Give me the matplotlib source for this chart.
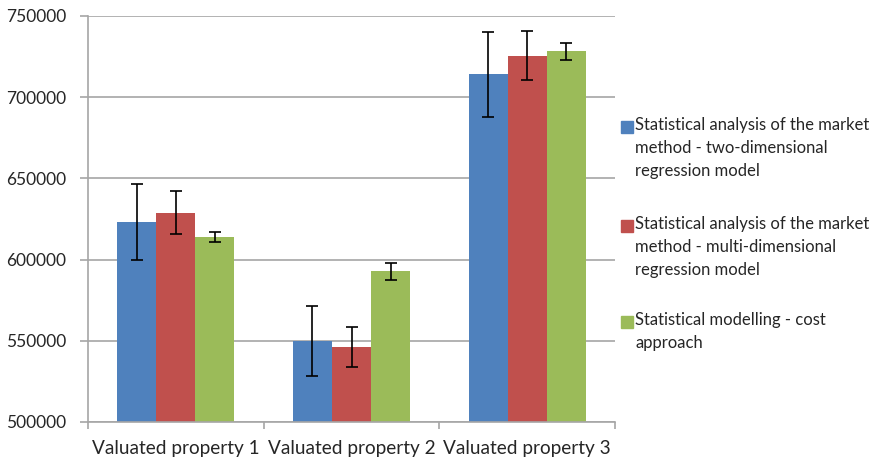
import numpy as np
import matplotlib
matplotlib.use("Agg")
import matplotlib.pyplot as plt
from matplotlib.patches import Rectangle

# === DATA ===
CATEGORIES = ["Valuated property 1", "Valuated property 2", "Valuated property 3"]
SERIES = [
    "Statistical analysis of the market\nmethod - two-dimensional\nregression model",
    "Statistical analysis of the market\nmethod - multi-dimensional\nregression model",
    "Statistical modelling - cost\napproach",
]
TWO_DIM = [623000, 550000, 714000]
MULTI_DIM = [629000, 546000, 725500]
COST = [614000, 592800, 728200]
TWO_DIM_ERR = [23400, 21600, 26400]
MULTI_DIM_ERR = [13300, 12300, 15000]
COST_ERR = [2900, 5300, 5400]

COLORS = ["#4F81BD", "#C0504D", "#9BBB59"]
GRID = "#A6A6A6"
TEXT = "#262626"

plt.rcParams['font.family'] = ['Lato', 'DejaVu Sans']

fig = plt.figure(figsize=(8.77, 4.61), dpi=100)
ax = fig.add_axes([0.1003, 0.0846, 0.601, 0.8807])

x = np.arange(len(CATEGORIES))
width = 0.667 / 3
values = [TWO_DIM, MULTI_DIM, COST]
errors = [TWO_DIM_ERR, MULTI_DIM_ERR, COST_ERR]
for i, (vals, errs) in enumerate(zip(values, errors)):
    ax.bar(x + (i - 1) * width, vals, width, color=COLORS[i], zorder=2,
           yerr=errs, error_kw=dict(ecolor='black', elinewidth=1.2, capsize=4.5, capthick=1.2, zorder=3))

ax.set_ylim(500000, 750000)
ax.set_xlim(-0.5, 2.5)
ax.set_yticks(np.arange(500000, 750001, 50000))
ax.set_yticklabels([str(v) for v in range(500000, 750001, 50000)], fontsize=12.5, color=TEXT)
ax.yaxis.grid(True, color=GRID, linewidth=1.2, zorder=0)
ax.set_axisbelow(True)

ax.set_xticks(x)
ax.set_xticklabels(CATEGORIES, fontsize=13.7, color=TEXT)
ax.tick_params(axis='x', which='major', length=0, pad=13)
ax.set_xticks(np.arange(-0.5, 3.0, 1.0), minor=True)
ax.tick_params(axis='x', which='minor', length=5, color=GRID, width=1.2)
ax.tick_params(axis='y', length=6, color=GRID, width=1.2, pad=9.5)

for s in ['top', 'right']:
    ax.spines[s].set_visible(False)
for s in ['left', 'bottom']:
    ax.spines[s].set_color(GRID)
    ax.spines[s].set_linewidth(1.2)

# legend drawn by hand so the swatch sits on the first line
W, H = 877, 461
legend_y = [127, 226, 322]
for i, label in enumerate(SERIES):
    yc = legend_y[i]
    fig.patches.append(Rectangle((621 / W, (H - yc - 6) / H), 12 / W, 12 / H,
                                 transform=fig.transFigure, color=COLORS[i]))
    fig.text(635 / W, (H - yc + 10) / H, label, fontsize=12, color=TEXT,
             va='top', ha='left', linespacing=1.55)

fig.savefig("out.png", dpi=100)
